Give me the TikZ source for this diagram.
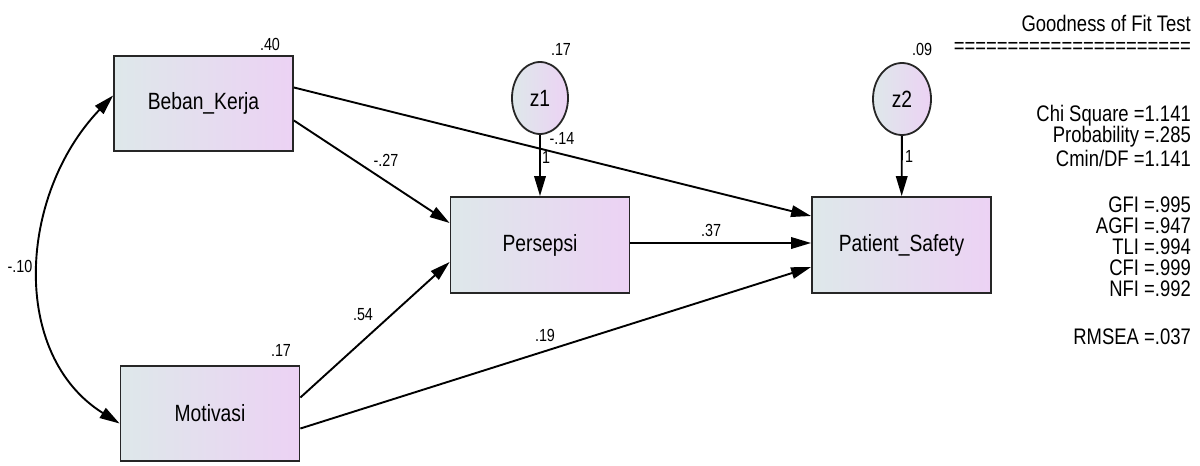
\documentclass[tikz,border=0pt]{standalone}
\usepackage{fontspec}
\setmainfont{Liberation Sans}[FakeStretch=0.82]
\usetikzlibrary{arrows.meta,shapes.geometric,calc}
\definecolor{boxleft}{RGB}{222,232,234}
\definecolor{boxright}{RGB}{236,210,244}
\begin{document}
\begin{tikzpicture}[x=1pt,y=-1pt,
  var/.style={draw=black!85, line width=1.8pt, left color=boxleft, right color=boxright,
    minimum width=179pt, minimum height=95pt, inner sep=0pt, font=\fontsize{23.5}{28}\selectfont},
  err/.style={ellipse, draw=black!85, line width=1.8pt, left color=boxleft, right color=boxright,
    minimum width=56pt, minimum height=72pt, inner sep=0pt, font=\fontsize{23.5}{28}\selectfont},
  reg/.style={line width=1.9pt, -{Triangle[length=20pt,width=11.5pt]}},
  cov/.style={line width=1.9pt, {Triangle[length=20pt,width=11.5pt]}-{Triangle[length=20pt,width=11.5pt]}},
  lbl/.style={font=\fontsize{17.5}{20}\selectfont, inner sep=0pt},
  fit/.style={font=\fontsize{22.5}{26}\selectfont, anchor=east, inner sep=0pt}]
\useasboundingbox (0,0) rectangle (1200,466);

% observed variables
\node[var] (bk) at (203.5,103.5) {Beban\_Kerja};
\node[var] (mo) at (210,413.5) {Motivasi};
\node[var, minimum height=96pt] (pe) at (540,245) {Persepsi};
\node[var, minimum height=96pt] (ps) at (901.5,245) {Patient\_Safety};

% residuals
\node[err] (z1) at (540,98) {z1};
\node[err, minimum width=58pt] (z2) at (902,99) {z2};

% regression paths
\draw[reg] ($(bk.east)+(0,-16)$) -- ($(ps.west)+(0,-29)$);
\draw[reg] ($(bk.east)+(0,17)$) -- ($(pe.west)+(0,-22)$);
\draw[reg] ($(mo.east)+(0,-16)$) -- ($(pe.west)+(0,17)$);
\draw[reg] ($(mo.east)+(0,15)$) -- ($(ps.west)+(0,22)$);
\draw[reg] ($(pe.east)+(0,-2)$) -- ($(ps.west)+(0,-2)$);
\draw[reg] (z1) -- (pe);
\draw[reg] (z2) -- (ps);

% covariance
\draw[cov] ($(bk.west)+(0,-8)$) .. controls (18,195) and (10,355) .. ($(mo.west)+(0,10)$);

% estimates
\node[lbl] (rbk) at (270,44) {.40};
\node[lbl] (rmo) at (281,350) {.17};
\node[lbl] (rz1) at (561,49) {.17};
\node[lbl] (rz2) at (922,49) {.09};
\node[lbl] (w1) at (562,138) {-.14};
\node[lbl] (w2) at (386,160) {-.27};
\node[lbl] (w3) at (363,315) {.54};
\node[lbl] (w4) at (545,335) {.19};
\node[lbl] (w5) at (711,230) {.37};
\node[lbl] (w6) at (20,266) {-.10};
\node[lbl] (f1) at (546,157) {1};
\node[lbl] (f2) at (909,156) {1};

% fit summary
\node[fit] (t0) at (1191,23) {Goodness of Fit Test};
\node[fit] (t1) at (1191,48) {======================};
\node[fit] (t2) at (1191,116) {Chi Square =1.141};
\node[fit] (t3) at (1191,137) {Probability =.285};
\node[fit] (t4) at (1191,158) {Cmin/DF =1.141};
\node[fit] (t5) at (1191,205) {GFI =.995};
\node[fit] (t6) at (1191,226) {AGFI =.947};
\node[fit] (t7) at (1191,247) {TLI =.994};
\node[fit] (t8) at (1191,268) {CFI =.999};
\node[fit] (t9) at (1191,289) {NFI =.992};
\node[fit] (t10) at (1191,337) {RMSEA =.037};
\end{tikzpicture}
\end{document}
